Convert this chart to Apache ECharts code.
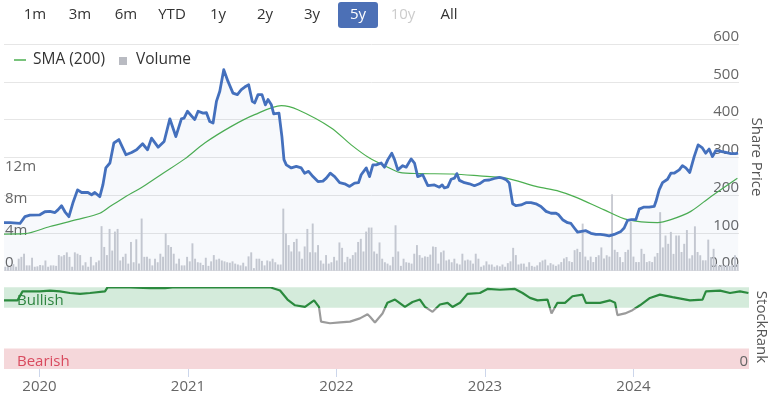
<!DOCTYPE html>
<html><head><meta charset="utf-8">
<script src="https://cdn.jsdelivr.net/npm/echarts@6/dist/echarts.min.js"></script>
<style>html,body{margin:0;padding:0;background:#fff}#c{width:773px;height:394px}</style>
</head><body><div id="c"></div>
<script>
// ---------- data ----------
const rangeButtons = ['1m','3m','6m','YTD','1y','2y','3y','5y','10y','All'];
const activeButton = '5y';
const disabledButtons = ['10y'];
const yearTicks = [2020, 2021, 2022, 2023, 2024];
const timeStart = 2019.761, timeEnd = 2024.778;

const priceYears = [
2019.761,2019.802,2019.870,2019.904,2019.938,2020.006,2020.040,2020.075,2020.109,2020.129,
2020.154,2020.177,2020.204,2020.231,2020.263,2020.291,2020.334,2020.359,2020.381,2020.415,
2020.436,2020.456,2020.484,2020.511,2020.545,2020.593,2020.632,2020.666,2020.707,2020.741,
2020.768,2020.813,2020.854,2020.893,2020.934,2020.972,2020.990,2021.013,2021.063,2021.086,
2021.120,2021.143,2021.165,2021.188,2021.211,2021.234,2021.261,2021.290,2021.324,2021.354,
2021.381,2021.404,2021.431,2021.456,2021.472,2021.495,2021.522,2021.545,2021.563,2021.586,
2021.602,2021.638,2021.658,2021.672,2021.688,2021.722,2021.756,2021.790,2021.813,2021.840,
2021.870,2021.904,2021.938,2021.961,2021.988,2022.018,2022.052,2022.086,2022.120,2022.154,
2022.181,2022.199,2022.234,2022.256,2022.279,2022.302,2022.336,2022.358,2022.381,2022.408,
2022.427,2022.449,2022.483,2022.506,2022.540,2022.563,2022.585,2022.619,2022.654,2022.699,
2022.733,2022.752,2022.767,2022.790,2022.813,2022.836,2022.852,2022.870,2022.904,2022.938,
2022.972,2023.006,2023.040,2023.074,2023.108,2023.142,2023.165,2023.188,2023.210,2023.233,
2023.256,2023.290,2023.324,2023.358,2023.392,2023.426,2023.461,2023.495,2023.529,2023.547,
2023.574,2023.608,2023.631,2023.654,2023.676,2023.703,2023.733,2023.767,2023.801,2023.831,
2023.858,2023.892,2023.926,2023.972,2023.994,2024.017,2024.044,2024.074,2024.097,2024.126,
2024.165,2024.199,2024.211,2024.233,2024.256,2024.290,2024.313,2024.335,2024.370,2024.392,
2024.415,2024.442,2024.472,2024.499,2024.528,2024.551,2024.574,2024.597,2024.620,2024.654,
2024.688,2024.722,2024.756,2024.772];
const priceValues = [
127,127,125,143,147,148,156,157,154,161,
172,156,143,179,214,207,207,201,207,196,
227,272,285,338,347,307,313,320,336,320,
351,327,342,402,355,402,404,422,400,422,
417,418,395,391,448,475,532,501,470,466,
479,486,492,448,444,466,466,439,453,439,
415,417,355,294,280,272,276,272,258,263,
249,236,237,245,258,249,233,230,223,232,
233,254,272,249,280,280,285,274,294,311,
294,267,278,274,296,285,249,254,225,227,
221,227,219,222,242,245,257,239,233,230,
225,230,239,240,244,247,245,241,232,177,
172,174,180,180,177,170,157,152,152,148,
135,127,125,113,102,104,106,99,96,96,
95,92,96,104,113,133,135,135,163,168,
168,170,183,214,233,242,258,258,267,278,
272,260,302,333,325,311,322,302,318,316,
313,310,310,311];

const smaYears = [2019.761,2019.904,2020.075,2020.257,2020.415,2020.484,2020.574,2020.711,2020.847,2020.995,
2021.131,2021.313,2021.472,2021.654,2021.767,2021.995,2022.131,2022.256,2022.370,2022.461,
2022.597,2022.824,2023.006,2023.188,2023.392,2023.551,2023.654,2023.858,2024.017,2024.222,
2024.313,2024.449,2024.585,2024.767];
const smaValues = [97,98,117,135,152,170,192,223,258,296,
338,382,413,437,426,378,333,298,276,260,
257,256,251,245,223,210,196,161,135,127,
135,157,196,245];

// weekly volume, millions
const volumes = [
0.49,0.49,0.49,0.82,0.49,1.49,1.72,2.11,0.66,0.66,
1.61,0.49,0.54,0.71,0.66,1.27,0.49,0.66,0.66,0.6,
1.94,1.78,1.94,2.28,1.72,0.49,2.28,2.11,1.94,0.66,
1.05,0.49,1.72,0.66,1.05,1.27,5.53,2.95,1.94,5.19,
2.5,4.86,5.19,1.27,1.72,2.11,0.88,3.57,1.05,3.9,
0.88,6.48,1.72,1.72,1.49,0.66,1.49,1.05,2.11,1.72,
4.63,3.18,2.95,2.11,0.88,1.49,0.66,0.66,
1.72,1.16,3.4,1.49,1.05,0.99,0.71,1.61,0.6,1.16,
1.94,1.38,1.49,1.27,1.16,1.05,0.99,1.16,0.88,0.77,
0.66,0.99,0.54,1.78,2.28,0.32,1.49,1.49,1.22,0.66,
1.27,1.16,1.49,1.05,0.77,0.77,7.71,4.63,3.18,2.39,
3.57,3.96,2.39,1.49,3.01,5.19,2.28,5.86,2.28,3.18,
1.27,0.88,1.94,0.88,1.05,1.72,1.27,3.51,2.84,1.05,
1.72,1.49,1.94,2.28,3.57,3.96,2.39,4.86,5.36,5.36,
2.39,2.11,3.51,1.49,1.05,0.88,0.66,1.72,5.64,2.39,
0.6,1.49,1.05,0.99,0.88,2.11,3.18,1.94,1.61,1.78,
1.72,2.0,3.01,2.95,0.88,2.28,2.5,1.27,1.38,1.05,
1.49,0.88,0.77,2.11,1.27,1.38,1.27,0.88,2.11,1.49,
0.49,0.66,1.16,0.77,0.77,0.49,0.66,0.54,0.77,0.49,
0.94,1.16,2.84,1.94,0.77,0.88,0.88,0.49,1.05,0.6,
0.49,0.66,1.05,1.27,1.38,0.66,0.94,0.77,0.6,
0.78,1.07,1.52,1.69,1.18,1.07,2.55,2.72,2.32,5.85,
1.75,1.29,1.75,1.07,1.69,1.92,2.89,1.52,1.92,1.75,
9.49,2.6,2.32,1.69,1.07,2.32,2.6,6.08,1.75,1.07,
1.07,2.72,2.09,1.07,1.18,1.07,1.75,2.2,7.27,2.89,
4.37,3.34,4.82,2.09,4.37,4.37,2.32,3.34,5.05,1.52,
1.92,5.51,2.32,1.92,1.29,1.29,3.86,1.69,2.72,0.84,
0.6,0.72,0.6,0.72,0.6,0.72,1.92,0.84];

const rankYears = [2019.761,2019.852,2019.886,2020.003,2020.071,2020.138,2020.205,2020.273,2020.340,2020.441,
2020.458,2020.609,2020.744,2020.845,2020.896,2021.552,2021.620,2021.670,2021.721,2021.788,
2021.849,2021.882,2021.896,2021.956,2022.024,2022.091,2022.158,2022.209,2022.226,2022.259,
2022.310,2022.343,2022.394,2022.461,2022.512,2022.562,2022.596,2022.647,2022.697,2022.748,
2022.781,2022.832,2022.882,2022.966,2023.017,2023.101,2023.202,2023.253,2023.303,2023.354,
2023.421,2023.448,2023.488,2023.539,2023.589,2023.657,2023.680,2023.775,2023.842,2023.876,
2023.892,2023.943,2023.993,2024.044,2024.111,2024.178,2024.263,2024.380,2024.465,2024.488,
2024.583,2024.650,2024.717,2024.774];
const rankValues = [84,84,95,95,96,95,93,92,93,95,
100,100,99,99,100,100,96,85,78,76,
84,76,58,56,57,58,62,67,64,57,
68,81,85,76,82,85,76,70,79,81,
76,81,92,93,98,97,98,93,87,84,
85,68,81,81,89,91,81,81,84,81,
66,68,72,78,87,91,88,84,85,95,
96,93,95,93];
const bullishMin = 75, bearishMax = 25;

// ---------- chart ----------
const FONT = '"Open Sans", "DejaVu Sans", sans-serif';
const chart = echarts.init(document.getElementById('c'), null, {renderer: 'canvas'});

const btnX = [35, 80, 126, 172, 218, 265, 312, 358, 403, 449];
const graphics = [];
rangeButtons.forEach((b, i) => {
  if (b === activeButton) {
    graphics.push({type: 'rect', shape: {x: btnX[i] - 20, y: 2, width: 40, height: 26, r: 3},
      style: {fill: '#4c70b6'}, z: 10});
  }
  graphics.push({type: 'text', z: 11, style: {text: b, x: btnX[i], y: 15, align: 'center', verticalAlign: 'middle',
    font: '15px ' + FONT,
    fill: b === activeButton ? '#ffffff' : (disabledButtons.includes(b) ? '#cccccc' : '#333333')}});
});
graphics.push(
  {type: 'line', shape: {x1: 14, y1: 60, x2: 26, y2: 60}, style: {stroke: '#4caf50', lineWidth: 1.5}},
  {type: 'text', style: {text: 'SMA (200)', x: 33, y: 60, verticalAlign: 'middle', font: '15.5px ' + FONT, fill: '#333'}},
  {type: 'rect', shape: {x: 119, y: 57, width: 8, height: 8}, style: {fill: '#b9bbc2'}},
  {type: 'text', style: {text: 'Volume', x: 136, y: 60, verticalAlign: 'middle', font: '15.5px ' + FONT, fill: '#333'}},
  {type: 'text', x: 756, y: 157, rotation: -Math.PI / 2,
    style: {text: 'Share Price', x: 0, y: 0, align: 'center', verticalAlign: 'middle', font: '15px ' + FONT, fill: '#555'}},
  {type: 'text', x: 761, y: 327, rotation: -Math.PI / 2,
    style: {text: 'StockRank', x: 0, y: 0, align: 'center', verticalAlign: 'middle', font: '15px ' + FONT, fill: '#555'}}
);

const axisText = {color: '#666', fontSize: 15, fontFamily: FONT};

chart.setOption({
  animation: false,
  backgroundColor: '#fff',
  textStyle: {fontFamily: FONT},
  graphic: graphics,
  grid: [
    {left: 4, right: 34, top: 44, bottom: 123.3},
    {left: 4, right: 24, top: 287.3, bottom: 24.7}
  ],
  xAxis: [
    {type: 'value', gridIndex: 0, min: timeStart, max: timeEnd, show: false},
    {type: 'category', gridIndex: 0, data: volumes.map((v, i) => 'w' + i), show: false, boundaryGap: true},
    {type: 'value', gridIndex: 1, min: timeStart, max: timeEnd, position: 'bottom',
      axisLine: {show: false}, splitLine: {show: false},
      axisTick: {show: true, length: 8, customValues: yearTicks, lineStyle: {color: '#ccd6eb'}},
      axisLabel: Object.assign({customValues: yearTicks, margin: 10, formatter: v => String(Math.round(v))}, axisText)}
  ],
  yAxis: [
    {type: 'value', gridIndex: 0, position: 'right', min: 0, max: 600, interval: 100,
      axisLine: {show: false}, axisTick: {show: false},
      splitLine: {lineStyle: {color: '#e6e6e6', width: 1}},
      axisLabel: Object.assign({inside: true, margin: 0, align: 'right', verticalAlign: 'bottom', lineHeight: 15,
        formatter: v => v === 0 ? '0.00' : String(v)}, axisText)},
    {type: 'value', gridIndex: 0, position: 'left', min: 0, max: 28.16, interval: 4,
      axisLine: {show: false}, axisTick: {show: false}, splitLine: {show: false},
      axisLabel: Object.assign({inside: true, margin: 1, align: 'left', verticalAlign: 'bottom', lineHeight: 15,
        showMaxLabel: false,
        formatter: v => v === 0 ? '0' : (v <= 12 ? v + 'm' : '')}, axisText)},
    {type: 'value', gridIndex: 1, position: 'right', min: 0, max: 100, interval: 100, z: 10,
      axisLine: {show: false}, axisTick: {show: false}, splitLine: {show: false},
      axisLabel: Object.assign({inside: true, margin: 1, align: 'right', verticalAlign: 'bottom', lineHeight: 15,
        formatter: v => v === 0 ? '0' : ''}, axisText)}
  ],
  visualMap: [{
    type: 'piecewise', show: false, seriesIndex: 3, dimension: 1,
    pieces: [{min: bullishMin, max: 100, color: '#2b8a3e'}, {min: 0, max: bullishMin, color: '#9b9b9b'}]
  }],
  series: [
    {name: 'Volume', type: 'bar', xAxisIndex: 1, yAxisIndex: 1, data: volumes,
      barWidth: '72%', itemStyle: {color: '#c9cbd2'}, z: 2, silent: true},
    {name: 'Share Price', type: 'line', xAxisIndex: 0, yAxisIndex: 0,
      data: priceYears.map((t, i) => [t, priceValues[i]]),
      showSymbol: false, symbol: 'none', clip: false,
      lineStyle: {color: '#4470bd', width: 2.8, join: 'round'},
      areaStyle: {color: 'rgba(70,110,190,0.06)'}, z: 4},
    {name: 'SMA (200)', type: 'line', xAxisIndex: 0, yAxisIndex: 0,
      data: smaYears.map((t, i) => [t, smaValues[i]]),
      showSymbol: false, symbol: 'none', smooth: 0.3,
      lineStyle: {color: '#4caf50', width: 1.2}, z: 3},
    {name: 'StockRank', type: 'line', xAxisIndex: 2, yAxisIndex: 2,
      data: rankYears.map((t, i) => [t, rankValues[i]]),
      showSymbol: false, symbol: 'none', clip: false,
      lineStyle: {width: 2.2}, z: 4,
      markArea: {silent: true, z: 1, data: [
        [{name: 'Bullish', yAxis: bullishMin, itemStyle: {color: '#d4ebdb'},
          label: {show: true, position: 'insideLeft', distance: 13, offset: [0, 3], color: '#2e8540', fontSize: 15, fontFamily: FONT}},
         {yAxis: 100}],
        [{name: 'Bearish', yAxis: 0, itemStyle: {color: '#f5d7da'},
          label: {show: true, position: 'insideLeft', distance: 13, offset: [0, 3], color: '#d94a5e', fontSize: 15, fontFamily: FONT}},
         {yAxis: bearishMax}]
      ]}}
  ]
});
</script></body></html>
